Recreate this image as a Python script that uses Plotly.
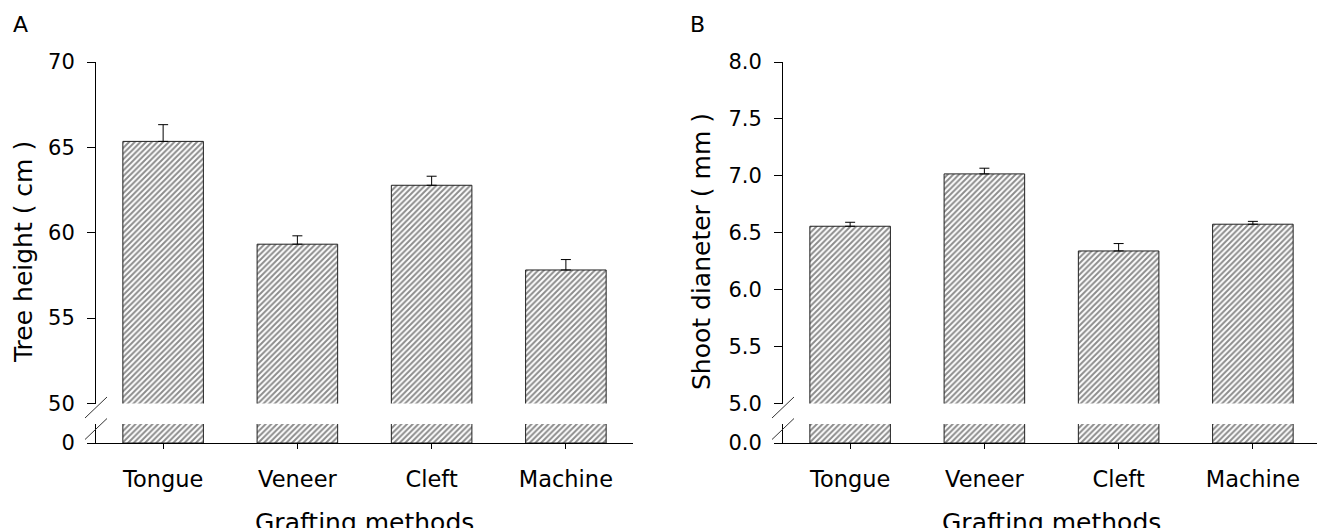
import plotly.graph_objects as go

# ---------------- data ----------------
methods = ["Tongue", "Veneer", "Cleft", "Machine"]
tree_height = [65.35, 59.33, 62.78, 57.82]
tree_height_se = [0.98, 0.49, 0.53, 0.61]
shoot_diam = [6.557, 7.017, 6.34, 6.575]
shoot_diam_se = [0.035, 0.05, 0.065, 0.025]

a_ticks = [50, 55, 60, 65, 70]
a_ticktext = ["50", "55", "60", "65", "70"]
b_ticks = [5.0, 5.5, 6.0, 6.5, 7.0, 7.5, 8.0]
b_ticktext = ["5.0", "5.5", "6.0", "6.5", "7.0", "7.5", "8.0"]

# ---------------- layout geometry (page pixels) ----------------
OFF = 8                      # page body margin
W, H = 1325 - OFF, 528 - OFF  # figure size
def px_x(p):
    return (p - OFF) / W
def px_y(p):
    return (H - (p - OFF)) / H

ax_a = (96, 633)
ax_b = (783, 1320)
upper_px = (62, 403.5)
lower_px = (424, 443)

FONT = "DejaVu Sans"
BAR_LINE = "#222222"
HATCH = "#1a1a1a"

fig = go.Figure()

def add_panel(xa, ya_up, ya_lo, vals, errs):
    pattern = dict(shape="/", fgcolor=HATCH, bgcolor="white", size=4, solidity=0.5)
    fig.add_trace(go.Bar(
        x=methods, y=vals, xaxis=xa, yaxis=ya_up, width=0.6,
        marker=dict(color="white", line=dict(color=BAR_LINE, width=1), pattern=pattern),
        error_y=dict(type="data", symmetric=False, array=errs, arrayminus=[0] * len(errs),
                     color="black", thickness=1, width=5),
        showlegend=False, hoverinfo="x+y",
    ))
    fig.add_trace(go.Bar(
        x=methods, y=vals, xaxis=xa, yaxis=ya_lo, width=0.6,
        marker=dict(color="white", line=dict(color=BAR_LINE, width=1), pattern=pattern),
        showlegend=False, hoverinfo="skip",
    ))

add_panel("x", "y", "y2", tree_height, tree_height_se)
add_panel("x2", "y3", "y4", shoot_diam, shoot_diam_se)

ytickfont = dict(family=FONT, size=21, color="black")
xtickfont = dict(family=FONT, size=22.5, color="black")

common_x = dict(type="category", range=[-0.5, 3.5], showline=True, linecolor="black",
                linewidth=1, ticks="outside", ticklen=5, tickcolor="black",
                tickfont=xtickfont, ticklabelstandoff=11, showgrid=False, zeroline=False,
                automargin=False)
common_y = dict(showline=True, linecolor="black", linewidth=1, ticks="outside",
                ticklen=8, tickcolor="black", tickfont=ytickfont, ticklabelstandoff=8,
                showgrid=False, zeroline=False, automargin=False)

fig.update_layout(
    width=W, height=H,
    margin=dict(l=0, r=0, t=0, b=0, pad=0),
    paper_bgcolor="white", plot_bgcolor="white",
    bargap=0.4,
    xaxis=dict(domain=[px_x(ax_a[0]), px_x(ax_a[1])], anchor="y2", **common_x),
    xaxis2=dict(domain=[px_x(ax_b[0]), min(1.0, px_x(ax_b[1]))], anchor="y4", **common_x),
    yaxis=dict(domain=[px_y(upper_px[1]), px_y(upper_px[0])], range=[50, 70],
               tickvals=a_ticks, ticktext=a_ticktext, anchor="x", **common_y),
    yaxis2=dict(domain=[px_y(lower_px[1]), px_y(lower_px[0])], range=[0, 1],
                tickvals=[0], ticktext=["0"], anchor="x", **common_y),
    yaxis3=dict(domain=[px_y(upper_px[1]), px_y(upper_px[0])], range=[5.0, 8.0],
                tickvals=b_ticks, ticktext=b_ticktext, anchor="x2", **common_y),
    yaxis4=dict(domain=[px_y(lower_px[1]), px_y(lower_px[0])], range=[0, 1],
                tickvals=[0], ticktext=["0.0"], anchor="x2", **common_y),
)

# axis break marks
for axx in (ax_a[0], ax_b[0]):
    for cy in (407.5, 429):
        fig.add_shape(type="line", xref="paper", yref="paper",
                      x0=px_x(axx - 11), y0=px_y(cy + 10.5),
                      x1=px_x(axx + 11), y1=px_y(cy - 10.5),
                      line=dict(color="#333333", width=1))

# titles
title_font = dict(family=FONT, size=25, color="black")
fig.add_annotation(text="Grafting methods", xref="paper", yref="paper",
                   x=px_x((ax_a[0] + ax_a[1]) / 2), y=px_y(506), xanchor="center",
                   yanchor="top", showarrow=False, font=title_font)
fig.add_annotation(text="Grafting methods", xref="paper", yref="paper",
                   x=px_x((ax_b[0] + ax_b[1]) / 2), y=px_y(506), xanchor="center",
                   yanchor="top", showarrow=False, font=title_font)
fig.add_annotation(text="Tree height ( cm )", xref="paper", yref="paper",
                   x=px_x(23), y=px_y(252), xanchor="center", yanchor="middle",
                   textangle=-90, showarrow=False, font=title_font)
fig.add_annotation(text="Shoot dianeter ( mm )", xref="paper", yref="paper",
                   x=px_x(701), y=px_y(252), xanchor="center", yanchor="middle",
                   textangle=-90, showarrow=False, font=title_font)

letter_font = dict(family=FONT, size=22, color="black")
fig.add_annotation(text="A", xref="paper", yref="paper", x=px_x(20), y=px_y(25),
                   xanchor="center", yanchor="middle", showarrow=False, font=letter_font)
fig.add_annotation(text="B", xref="paper", yref="paper", x=px_x(697), y=px_y(25),
                   xanchor="center", yanchor="middle", showarrow=False, font=letter_font)

fig.write_html("out.html")
